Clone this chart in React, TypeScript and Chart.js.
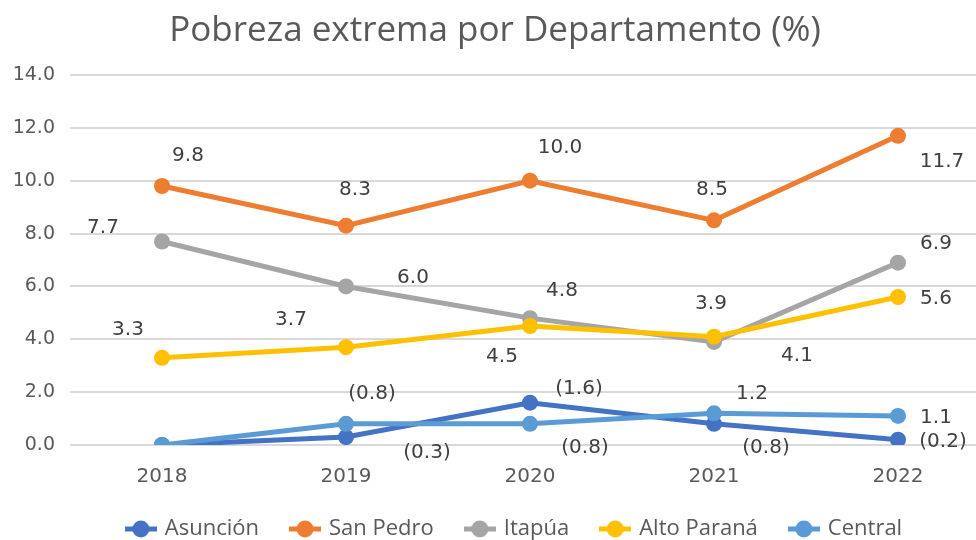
import React, { useEffect, useRef } from "react";
import { Chart, registerables } from "chart.js";

Chart.register(...registerables);

const years = ["2018", "2019", "2020", "2021", "2022"];
const seriesNames = ["Asunción", "San Pedro", "Itapúa", "Alto Paraná", "Central"];
const asuncion = [0.0, 0.3, 1.6, 0.8, 0.2];
const sanPedro = [9.8, 8.3, 10.0, 8.5, 11.7];
const itapua = [7.7, 6.0, 4.8, 3.9, 6.9];
const altoParana = [3.3, 3.7, 4.5, 4.1, 5.6];
const central = [0.0, 0.8, 0.8, 1.2, 1.1];

const asuncionLabels = [null, "(0.3)", "(1.6)", "(0.8)", "(0.2)"];
const sanPedroLabels = ["9.8", "8.3", "10.0", "8.5", "11.7"];
const itapuaLabels = ["7.7", "6.0", "4.8", "3.9", "6.9"];
const altoParanaLabels = ["3.3", "3.7", "4.5", "4.1", "5.6"];
const centralLabels = [null, "(0.8)", "(0.8)", "1.2", "1.1"];

const yMin = 0;
const yMax = 14;
const yStep = 2;

// label placement (style): offsets from point in pixels
const labelOffsets = [
  [[0, 0], [81, 16], [49, -14], [52, 24], [45, 2]],
  [[26, -30], [9, -36], [30, -33], [-2, -31], [44, 26]],
  [[-59, -14], [67, -9], [32, -27], [-3, -38], [38, -19]],
  [[-34, -28], [-55, -27], [-28, 31], [83, 19], [38, 2]],
  [[0, 0], [26, -30], [55, 24], [38, -19], [38, 2]],
];

const colors = ["#4472C4", "#ED7D31", "#A5A5A5", "#FFC000", "#5B9BD5"];

function makeMarker(color: string) {
  const c = document.createElement("canvas");
  c.width = 32;
  c.height = 20;
  const ctx = c.getContext("2d")!;
  ctx.strokeStyle = color;
  ctx.lineWidth = 5;
  ctx.beginPath();
  ctx.moveTo(0, 10);
  ctx.lineTo(32, 10);
  ctx.stroke();
  ctx.fillStyle = color;
  ctx.beginPath();
  ctx.arc(16, 10, 8.5, 0, Math.PI * 2);
  ctx.fill();
  return c;
}

export default function App() {
  const ref = useRef<HTMLCanvasElement | null>(null);
  useEffect(() => {
    document.body.style.margin = "0";
    document.body.style.overflow = "hidden";
    const canvas = ref.current!;
    const values = [asuncion, sanPedro, itapua, altoParana, central];
    const labels = [asuncionLabels, sanPedroLabels, itapuaLabels, altoParanaLabels, centralLabels];
    const markers = colors.map(makeMarker);

    const labelPlugin = {
      id: "pointLabels",
      afterLayout(chart: any) {
        if (chart.legend) {
          chart.legend.left += 20;
          chart.legend.right += 20;
        }
      },
      afterDatasetsDraw(chart: any) {
        const ctx = chart.ctx;
        ctx.save();
        ctx.font = "20px 'DejaVu Sans'";
        ctx.fillStyle = "#404040";
        ctx.textAlign = "center";
        ctx.textBaseline = "middle";
        chart.data.datasets.forEach((_ds: any, di: number) => {
          const meta = chart.getDatasetMeta(di);
          meta.data.forEach((pt: any, i: number) => {
            const t = labels[di][i];
            if (!t) return;
            const [dx, dy] = labelOffsets[di][i];
            ctx.fillText(t, pt.x + dx, pt.y + dy);
          });
        });
        ctx.restore();
      },
    };

    const chart = new Chart(canvas, {
      type: "line",
      data: {
        labels: years,
        datasets: values.map((v, i) => ({
          label: seriesNames[i],
          data: v,
          borderColor: colors[i],
          backgroundColor: colors[i],
          borderWidth: 5,
          pointRadius: 8,
          pointBackgroundColor: colors[i],
          pointBorderWidth: 0,
          tension: 0,
          order: 5 - i,
        })),
      },
      options: {
        responsive: false,
        animation: false,
        layout: { padding: { left: 0, right: 10, top: 0, bottom: 0 } },
        plugins: {
          title: {
            display: true,
            text: "Pobreza extrema por Departamento (%)",
            color: "#595959",
            font: { family: "'Open Sans'", size: 35, weight: "normal", lineHeight: 1.2 },
            padding: { top: 10, bottom: 23 },
          },
          legend: {
            position: "bottom",
            labels: {
              usePointStyle: true,
              pointStyleWidth: 26,
              padding: 33,
              color: "#595959",
              font: { family: "'Open Sans'", size: 22 },
              generateLabels: (ch: any) =>
                ch.data.datasets.map((ds: any, i: number) => ({
                  text: ds.label,
                  fillStyle: colors[i],
                  strokeStyle: colors[i],
                  lineWidth: 0,
                  pointStyle: markers[i],
                  hidden: false,
                  datasetIndex: i,
                  fontColor: "#595959",
                })),
            },
          },
          tooltip: { enabled: false },
        },
        scales: {
          x: {
            offset: true,
            grid: { display: false, drawTicks: false },
            border: { display: false },
            ticks: {
              color: "#595959",
              font: { family: "'DejaVu Sans'", size: 20 },
              padding: 20,
            },
            afterFit: (s: any) => {
              s.height = 40;
            },
          },
          y: {
            min: yMin,
            max: yMax,
            grid: { color: "#d9d9d9", lineWidth: 2, drawTicks: false },
            border: { display: false },
            ticks: {
              stepSize: yStep,
              color: "#595959",
              font: { family: "'DejaVu Sans'", size: 19 },
              padding: 15,
              callback: (v: any) => Number(v).toFixed(1),
            },
            afterFit: (s: any) => {
              s.width = 70;
            },
          },
        },
      },
      plugins: [labelPlugin],
    });
    return () => chart.destroy();
  }, []);
  return (
    <div style={{ width: 1000, height: 550 }}>
      <canvas ref={ref} width={1000} height={550} />
    </div>
  );
}
